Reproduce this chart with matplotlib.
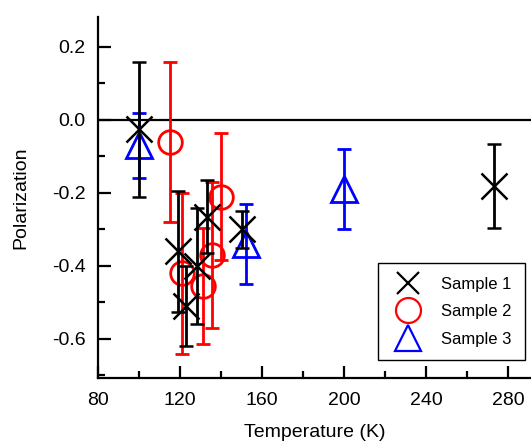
import matplotlib
matplotlib.use("Agg")
import matplotlib.pyplot as plt
from matplotlib.ticker import MultipleLocator
from matplotlib.lines import Line2D

plt.rcParams['font.family'] = ['Liberation Sans', 'DejaVu Sans']

# Sample 1 (black crosses)
t1 = [100, 119, 123, 128, 133, 150, 273]
p1 = [-0.025, -0.36, -0.51, -0.40, -0.265, -0.30, -0.18]
e1 = [0.185, 0.165, 0.11, 0.16, 0.10, 0.05, 0.115]

# Sample 2 (red circles)
t2 = [115, 121, 131, 135.5, 140]
p2 = [-0.06, -0.42, -0.455, -0.37, -0.21]
e2 = [0.22, 0.22, 0.16, 0.20, 0.175]

# Sample 3 (blue triangles)
t3 = [100, 152, 200]
p3 = [-0.07, -0.34, -0.19]
e3 = [0.09, 0.11, 0.11]

labels = ["Sample 1", "Sample 2", "Sample 3"]
xticks = [80, 120, 160, 200, 240, 280]
yticks = [-0.6, -0.4, -0.2, 0.0, 0.2]

fig = plt.figure(figsize=(5.31, 4.46), dpi=100)
ax = fig.add_axes([0.1846, 0.1525, 0.8154, 0.8094])

ax.axhline(0, color='black', lw=1.6, zorder=1)

common = dict(ls='none', elinewidth=2.0, capsize=5, capthick=2.0)
ax.errorbar(t3, p3, yerr=e3, color='blue', marker='^', ms=19,
            mfc='none', mew=2.0, zorder=2, **common)
ax.errorbar(t2, p2, yerr=e2, color='red', marker='o', ms=17,
            mfc='none', mew=2.0, zorder=3, **common)
ax.errorbar(t1, p1, yerr=e1, color='black', marker='x', ms=19,
            mew=1.8, zorder=4, **common)

ax.set_xlim(80, 291)
ax.set_ylim(-0.707, 0.282)
ax.set_xticks(xticks)
ax.set_yticks(yticks)
ax.set_yticklabels(["%.1f" % v for v in yticks])
ax.xaxis.set_minor_locator(MultipleLocator(20))
ax.yaxis.set_minor_locator(MultipleLocator(0.1))
ax.tick_params(which='both', direction='in', width=1.6, labelsize=14,
               top=False, right=False)
ax.tick_params(which='major', length=9)
ax.tick_params(axis='x', which='major', pad=10)
ax.tick_params(axis='y', which='major', pad=9)
ax.tick_params(which='minor', length=5)
for s in ['top', 'right']:
    ax.spines[s].set_visible(False)
for s in ['left', 'bottom']:
    ax.spines[s].set_linewidth(1.6)

ax.set_xlabel("Temperature (K)", fontsize=14, labelpad=11)
ax.set_ylabel("Polarization", fontsize=14, labelpad=16)

lh = [Line2D([], [], ls='none', marker='x', color='black', ms=16, mew=1.6),
      Line2D([], [], ls='none', marker='o', color='red', mfc='none', ms=18, mew=1.6),
      Line2D([], [], ls='none', marker='^', color='blue', mfc='none', ms=19, mew=1.6)]
leg = ax.legend(lh, labels, loc='lower right', bbox_to_anchor=(0.986, 0.05),
                borderaxespad=0, fontsize=12, frameon=True, fancybox=False,
                edgecolor='black', framealpha=1, borderpad=0.8,
                labelspacing=0.75, handletextpad=1.0, handlelength=2.0)
leg.get_frame().set_linewidth(1.0)

fig.savefig("out.png", dpi=100)
